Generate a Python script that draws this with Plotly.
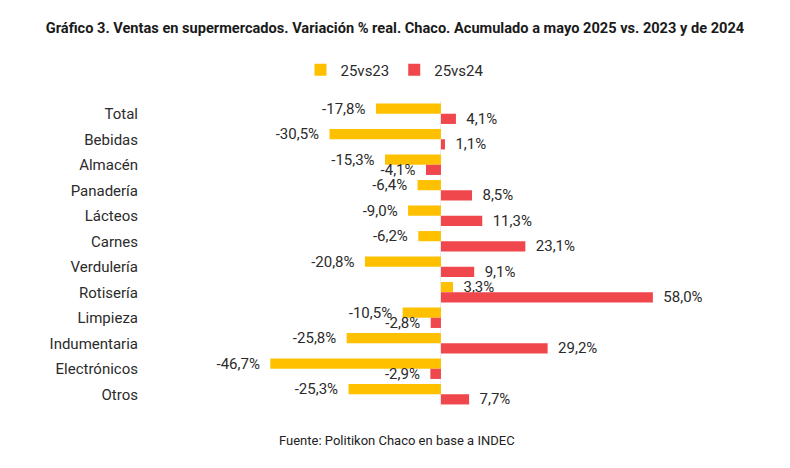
import plotly.graph_objects as go

categories = ["Total", "Bebidas", "Almacén", "Panadería", "Lácteos", "Carnes",
              "Verdulería", "Rotisería", "Limpieza", "Indumentaria", "Electrónicos", "Otros"]
v25vs23 = [-17.8, -30.5, -15.3, -6.4, -9.0, -6.2, -20.8, 3.3, -10.5, -25.8, -46.7, -25.3]
v25vs24 = [4.1, 1.1, -4.1, 8.5, 11.3, 23.1, 9.1, 58.0, -2.8, 29.2, -2.9, 7.7]

FONT = "Roboto, 'Open Sans', sans-serif"
TXT = "#2b2b2b"
PAD = "\u00a0\u00a0"


def labels(vals):
    out = []
    for v in vals:
        s = f"{v:.1f}%".replace(".", ",")
        out.append(s + PAD if v < 0 else PAD + s)
    return out


fig = go.Figure()
fig.add_trace(go.Bar(
    y=categories, x=v25vs23, orientation="h", name="25vs23",
    marker=dict(color="#FFC000", line=dict(width=0)),
    text=labels(v25vs23), textposition="outside", cliponaxis=False,
    constraintext="none", textfont=dict(size=15, color=TXT, family=FONT),
    hoverinfo="x+y",
))
fig.add_trace(go.Bar(
    y=categories, x=v25vs24, orientation="h", name="25vs24",
    marker=dict(color="#F0474C", line=dict(width=0)),
    text=labels(v25vs24), textposition="outside", cliponaxis=False,
    constraintext="none", textfont=dict(size=15, color=TXT, family=FONT),
    hoverinfo="x+y",
))

fig.update_layout(
    width=790, height=468,
    margin=dict(l=145, r=90, t=101, b=61),
    paper_bgcolor="white", plot_bgcolor="white",
    separators=",.",
    barmode="group", bargap=0.2, bargroupgap=0,
    font=dict(family=FONT, color=TXT, size=14),
    title=dict(
        text="<b>Gráfico 3. Ventas en supermercados. Variación % real. Chaco. Acumulado a mayo 2025 vs. 2023 y de 2024</b>",
        x=0.5, xref="container", xanchor="center",
        y=1 - 28 / 468, yref="container", yanchor="middle",
        font=dict(size=14.6, color="#1a1a1a", family="'Liberation Sans Narrow', Roboto, sans-serif"),
    ),
    legend=dict(
        orientation="h", x=0.5, xref="container", xanchor="center",
        y=1 - 70 / 468, yref="container", yanchor="middle",
        font=dict(size=15, color=TXT), itemwidth=30, traceorder="normal",
    ),
    xaxis=dict(range=[-81, 70.9], showgrid=False, showticklabels=False, ticks="",
               zeroline=True, zerolinecolor="#ececec", zerolinewidth=1, showline=False),
    yaxis=dict(autorange="reversed", showgrid=False, ticks="", showline=False,
               tickfont=dict(size=15, color=TXT), ticklabelstandoff=6),
    annotations=[dict(
        text="Fuente: Politikon Chaco en base a INDEC", showarrow=False,
        x=0.454, xref="paper", xanchor="center",
        y=-0.108, yref="paper", yanchor="middle",
        font=dict(size=13, color="#222222"),
    )],
)
fig.update_xaxes(automargin=False)
fig.update_yaxes(automargin=False)

fig.write_html("out.html")
